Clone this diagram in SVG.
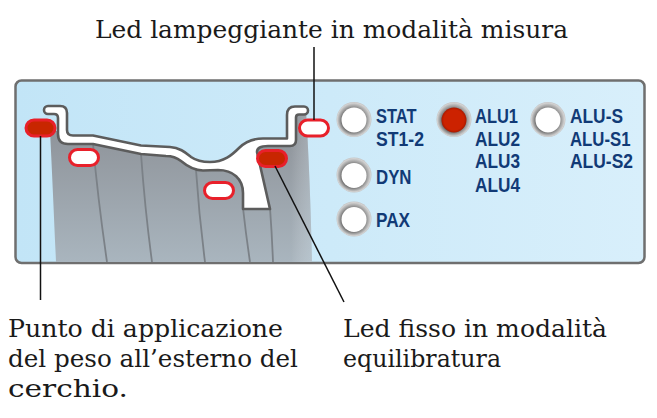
<svg xmlns="http://www.w3.org/2000/svg" width="657" height="418" viewBox="0 0 657 418">
  <defs>
    <linearGradient id="panelFill" x1="0" y1="0" x2="1" y2="0">
      <stop offset="0" stop-color="#c2e5f7"/>
      <stop offset="1" stop-color="#d8effb"/>
    </linearGradient>
    <linearGradient id="tireFill" x1="0" y1="0" x2="0" y2="1">
      <stop offset="0" stop-color="#8b8f95"/>
      <stop offset="1" stop-color="#a9b5be"/>
    </linearGradient>
    <linearGradient id="tireEdge" x1="0" y1="0" x2="1" y2="0">
      <stop offset="0" stop-color="#ffffff" stop-opacity="0"/>
      <stop offset="0.92" stop-color="#ffffff" stop-opacity="0"/>
      <stop offset="1" stop-color="#d6e8f2" stop-opacity="0.3"/>
    </linearGradient>
    <radialGradient id="ring" cx="0.5" cy="0.5" r="0.5" fx="0.42" fy="0.6">
      <stop offset="0.6" stop-color="#5e5e5e"/>
      <stop offset="0.78" stop-color="#9a9a9a"/>
      <stop offset="0.95" stop-color="#d2d2d2"/>
      <stop offset="1" stop-color="#c4c4c4"/>
    </radialGradient>
    <radialGradient id="redLamp" cx="0.5" cy="0.5" r="0.5">
      <stop offset="0.8" stop-color="#cc2200"/>
      <stop offset="1" stop-color="#a81a00"/>
    </radialGradient>
    <style>
      .caption { font-family: "DejaVu Serif", "Liberation Serif", serif; font-size: 24px; fill: #1a1a1a; }
      .key { font-family: "Liberation Sans", Arial, sans-serif; font-weight: bold; font-size: 20.5px; fill: #113a76; }
      .rim { fill: #ffffff; stroke: #5c5c5c; stroke-width: 2.6; stroke-linejoin: round; }
      .groove { fill: none; stroke: #7b8187; stroke-width: 1.8; }
      .spot { stroke: #e8202a; stroke-width: 3; }
      .spot-on { fill: #c82600; }
      .spot-off { fill: #ffffff; }
      .lead { fill: none; stroke: #111111; stroke-width: 1.5; }
    </style>
  </defs>

  <!-- display panel -->
  <g id="panel">
    <rect x="15.5" y="80.5" width="629" height="182.5" rx="6" fill="url(#panelFill)" stroke="#6f6f6f" stroke-width="2.5"/>
  </g>

  <!-- wheel cross-section: tyre, rim and weight positions -->
  <g id="wheel">
    <path d="M50,131 L60,131 L60,139 L93,139 L141,150 L170,151 C185,152 190,166 205,166 C225,166 235,152 245,146 L263,142 L291,142 L291,111 L306,111 C309,160 311,215 312,262 L56,262 C54,215 52,170 50,131 Z" fill="url(#tireFill)"/>
    <path d="M50,131 L60,131 L60,139 L93,139 L141,150 L170,151 C185,152 190,166 205,166 C225,166 235,152 245,146 L263,142 L291,142 L291,111 L306,111 C309,160 311,215 312,262 L56,262 C54,215 52,170 50,131 Z" fill="url(#tireEdge)"/>
    <path class="groove" d="M93,144 Q98,200 107,262"/>
    <path class="groove" d="M141,154 Q145,210 152,262"/>
    <path class="groove" d="M196,170 Q199,215 205,262"/>
    <path class="groove" d="M243,208 Q246,235 250,262"/>
    <path class="groove" d="M270,208 Q272,235 273,262"/>
    <path class="rim" d="M48,106 L60,106 Q67,106 67,113 L67,130 Q67,135.5 73,135.5 L93,135.5 L141,145.5 L170,147 C180,147.5 186,153 191,157 C196,160.5 202,162 210,162 C224,162 232,155 239,148 C245,142 252,138.5 263,138.5 L287,138.5 L287,115 Q287,106.5 295,106.5 L304,106.5 A4,4 0 0 1 304,114.5 L299,114.5 Q296,114.5 296,117.5 L296,140 Q296,146 290,146 L268,146 Q257,146 257,152 L270,209 L243,209 L243,193 C243,179 233,170 218,170 L203,170.5 C194,170.5 187,166 181,161 C176,157 172,156 166,156 L141,154 L93,144 L68,144 Q58,144 58,134 L58,118 Q58,114 54,114 L48,114 A4,4 0 0 1 48,106 Z"/>
  </g>

  <!-- weight position lamps -->
  <g id="lamp-outer-left">
    <rect class="spot spot-on" x="26" y="120" width="29" height="16" rx="8"/>
  </g>
  <g id="lamp-seat-left">
    <rect class="spot spot-off" x="69.5" y="149.5" width="29" height="16" rx="8"/>
  </g>
  <g id="lamp-well">
    <rect class="spot spot-off" x="204.5" y="182.5" width="29" height="16" rx="8"/>
  </g>
  <g id="lamp-seat-right">
    <rect class="spot spot-on" x="257.5" y="150.5" width="29" height="16" rx="8"/>
  </g>
  <g id="lamp-outer-right">
    <rect class="spot spot-off" x="299.5" y="120" width="29" height="16" rx="8"/>
  </g>

  <!-- mode indicator buttons -->
  <g id="btn-stat">
    <circle cx="354" cy="119.5" r="17.5" fill="url(#ring)"/>
    <circle cx="354" cy="120" r="12.5" fill="#ffffff"/>
    <text class="key" x="376" y="123.3" textLength="40.5" lengthAdjust="spacingAndGlyphs">STAT</text>
    <text class="key" x="376" y="145.7" textLength="48" lengthAdjust="spacingAndGlyphs">ST1-2</text>
  </g>
  <g id="btn-dyn">
    <circle cx="354" cy="175" r="17.5" fill="url(#ring)"/>
    <circle cx="354" cy="175.5" r="12.5" fill="#ffffff"/>
    <text class="key" x="376" y="184" textLength="35.5" lengthAdjust="spacingAndGlyphs">DYN</text>
  </g>
  <g id="btn-pax">
    <circle cx="354" cy="219" r="17.5" fill="url(#ring)"/>
    <circle cx="354" cy="219.5" r="12.5" fill="#ffffff"/>
    <text class="key" x="376" y="226.7" textLength="34" lengthAdjust="spacingAndGlyphs">PAX</text>
  </g>
  <g id="btn-alu">
    <circle cx="454" cy="119.5" r="17.5" fill="url(#ring)"/>
    <circle cx="454" cy="120" r="12.5" fill="url(#redLamp)"/>
    <text class="key" x="475" y="123.3" textLength="43" lengthAdjust="spacingAndGlyphs">ALU1</text>
    <text class="key" x="475" y="145.7" textLength="45" lengthAdjust="spacingAndGlyphs">ALU2</text>
    <text class="key" x="475" y="168.3" textLength="45" lengthAdjust="spacingAndGlyphs">ALU3</text>
    <text class="key" x="475" y="191.7" textLength="45" lengthAdjust="spacingAndGlyphs">ALU4</text>
  </g>
  <g id="btn-alu-s">
    <circle cx="548" cy="119.5" r="17.5" fill="url(#ring)"/>
    <circle cx="548" cy="120" r="12.5" fill="#ffffff"/>
    <text class="key" x="570" y="123.3" textLength="53" lengthAdjust="spacingAndGlyphs">ALU-S</text>
    <text class="key" x="570" y="145.7" textLength="60.5" lengthAdjust="spacingAndGlyphs">ALU-S1</text>
    <text class="key" x="570" y="168.3" textLength="63" lengthAdjust="spacingAndGlyphs">ALU-S2</text>
  </g>

  <!-- callout texts -->
  <g id="note-flashing">
    <text class="caption" x="95" y="38" textLength="473" lengthAdjust="spacingAndGlyphs">Led lampeggiante in modalità misura</text>
  </g>
  <g id="note-outer-point">
    <text class="caption" x="8" y="337" textLength="275" lengthAdjust="spacingAndGlyphs">Punto di applicazione</text>
    <text class="caption" x="8" y="367" textLength="290" lengthAdjust="spacingAndGlyphs">del peso all’esterno del</text>
    <text class="caption" x="8" y="397" textLength="120" lengthAdjust="spacingAndGlyphs">cerchio.</text>
  </g>
  <g id="note-steady">
    <text class="caption" x="343" y="337" textLength="264" lengthAdjust="spacingAndGlyphs">Led fisso in modalità</text>
    <text class="caption" x="343" y="367" textLength="158" lengthAdjust="spacingAndGlyphs">equilibratura</text>
  </g>

  <!-- leader lines -->
  <g id="connectors">
    <path class="lead" d="M314,47 V120"/>
    <path class="lead" d="M40.5,136 V300"/>
    <path class="lead" d="M275,166 L344,302"/>
  </g>
</svg>
